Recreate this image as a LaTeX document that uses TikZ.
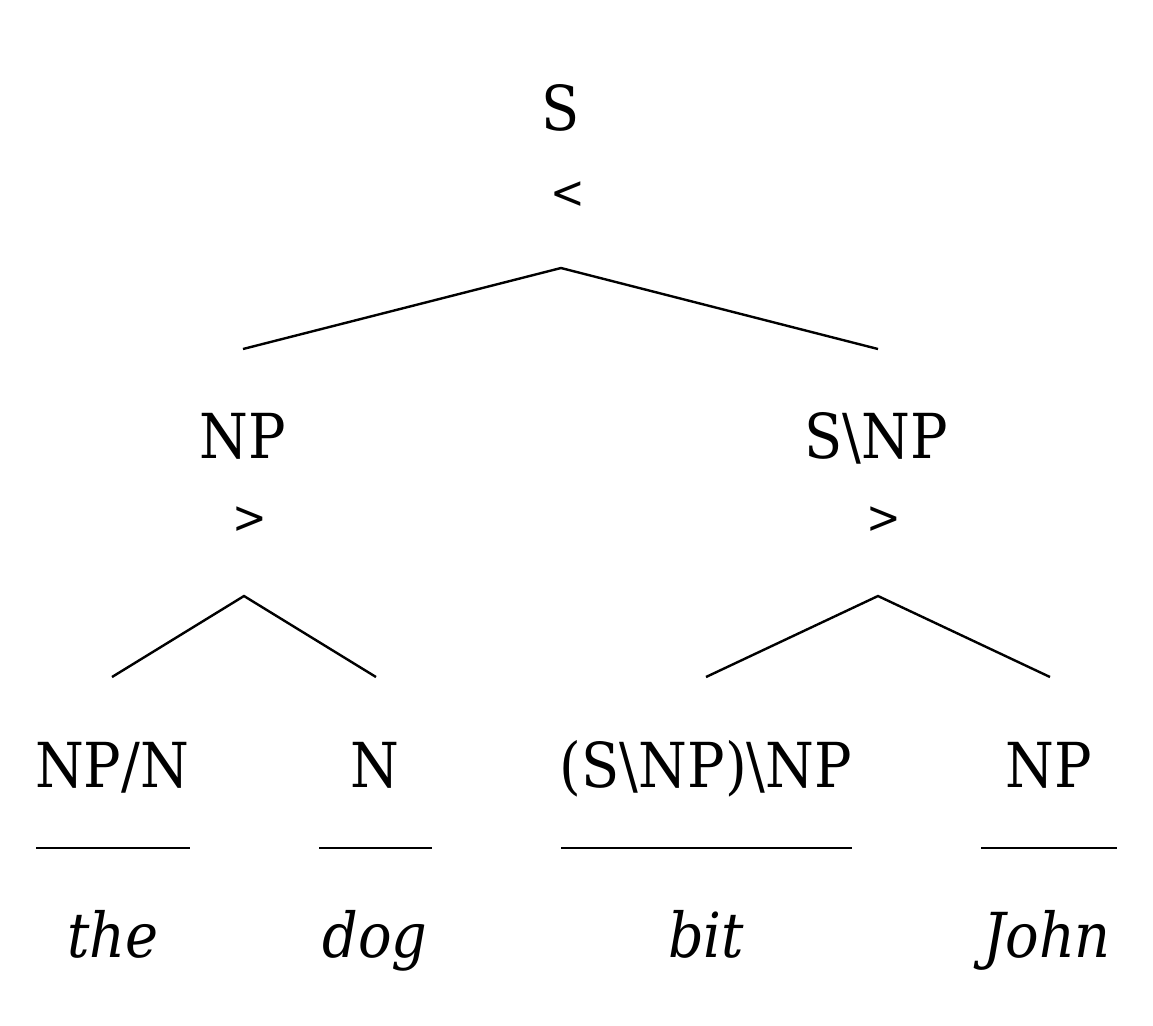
\documentclass[tikz,border=0pt]{standalone}
\usepackage{fontspec}
\setmainfont{DejaVu Serif Condensed}
\begin{document}
\begin{tikzpicture}[x=0.5pt,y=-0.5pt,
  lab/.style={anchor=base,inner sep=0pt,font=\fontsize{31}{36}\selectfont},
  opr/.style={anchor=base,inner sep=0pt,font=\fontsize{23}{28}\selectfont},
  wrd/.style={anchor=base,inner sep=0pt,font=\fontsize{31}{36}\selectfont\itshape},
  edge/.style={line width=1.2pt},
  rulebar/.style={line width=1.2pt}]
\useasboundingbox (0,0) rectangle (1153,1025);
% labels
\node[lab] (S) at (561,130) {S};
\node[opr] (lt) at (568,208) {<};
\node[lab] (NPa) at (243,458) {NP};
\node[opr] (gta) at (250,533) {>};
\node[lab] (SNP) at (876,458) {S\textbackslash NP};
\node[opr] (gtb) at (884,533) {>};
\node[lab] (NPN) at (112,787) {NP/N};
\node[lab] (N) at (375,787) {N};
\node[lab] (TV) at (706,787) {(S\textbackslash NP)\textbackslash NP};
\node[lab] (NPb) at (1049,787) {NP};
\node[wrd] (the) at (113,957) {the};
\node[wrd] (dog) at (375,957) {dog};
\node[wrd] (bit) at (706,957) {bit};
\node[wrd] (john) at (1047,957) {John};
% connector points
\coordinate (rS) at (561,268);
\coordinate (lNPa) at (243,349);
\coordinate (lSNP) at (878,349);
\coordinate (rNPa) at (244,596);
\coordinate (lNPN) at (112,677);
\coordinate (lN) at (376,677);
\coordinate (rSNP) at (878,596);
\coordinate (lTV) at (706,677);
\coordinate (lNPb) at (1050,677);
\draw[edge] (lNPa) -- (rS) -- (lSNP);
\draw[edge] (lNPN) -- (rNPa) -- (lN);
\draw[edge] (lTV) -- (rSNP) -- (lNPb);
% lexical rules
\coordinate (a1) at (36,848); \coordinate (a2) at (190,848);
\coordinate (b1) at (319,848); \coordinate (b2) at (432,848);
\coordinate (c1) at (561,848); \coordinate (c2) at (852,848);
\coordinate (d1) at (981,848); \coordinate (d2) at (1117,848);
\draw[rulebar] (a1) -- (a2);
\draw[rulebar] (b1) -- (b2);
\draw[rulebar] (c1) -- (c2);
\draw[rulebar] (d1) -- (d2);
\end{tikzpicture}
\end{document}
